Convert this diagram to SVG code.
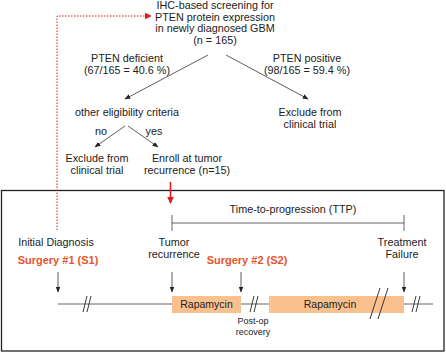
<svg xmlns="http://www.w3.org/2000/svg" width="446" height="353" viewBox="0 0 446 353">
<defs>
<style>
text{font-family:"Liberation Sans",Arial,sans-serif;font-size:10.8px;fill:#222;text-anchor:middle}
.sm{font-size:9px}
.rp{font-size:10.5px}
.sg{font-weight:bold;fill:#E8552B;font-size:11px}
.ln{stroke:#333;stroke-width:0.8;fill:none}
.tl{stroke:#555;stroke-width:0.9;fill:none}
.brk{stroke:#222;stroke-width:0.9;fill:none}
.bar{fill:#FAC18F}
</style>
<marker id="ah" viewBox="0 0 10 10" refX="9" refY="5" markerWidth="6" markerHeight="6" orient="auto" markerUnits="userSpaceOnUse"><path d="M0,1 L10,5 L0,9 z" fill="#222"/></marker>
<marker id="ahr" viewBox="0 0 10 10" refX="9" refY="5" markerWidth="7" markerHeight="7" orient="auto" markerUnits="userSpaceOnUse"><path d="M0,0 L10,5 L0,10 z" fill="#E31A1A"/></marker>
</defs>
<rect x="1.5" y="190.5" width="442.5" height="160.5" fill="none" stroke="#222" stroke-width="1.3"/>
<g id="screening"><text x="215" y="9">IHC-based screening for</text><text x="215" y="20.5">PTEN protein expression</text><text x="215" y="32">in newly diagnosed GBM</text><text x="215" y="43.5">(n = 165)</text></g>
<g id="deficient"><text x="127" y="61.5">PTEN deficient</text><text x="127" y="73.5">(67/165 = 40.6 %)</text></g>
<g id="positive"><text x="307" y="61.5">PTEN positive</text><text x="307" y="73.5">(98/165 = 59.4 %)</text></g>
<g id="eligibility"><text x="127" y="116">other eligibility criteria</text></g>
<g id="exclude-right"><text x="310" y="116">Exclude from</text><text x="310" y="127.5">clinical trial</text></g>
<g id="label-no"><text x="101" y="135">no</text></g>
<g id="label-yes"><text x="154" y="135">yes</text></g>
<g id="exclude-left"><text x="97" y="162">Exclude from</text><text x="97" y="174">clinical trial</text></g>
<g id="enroll"><text x="187" y="162">Enroll at tumor</text><text x="187" y="174">recurrence (n=15)</text></g>
<g id="ttp"><text x="293" y="213">Time-to-progression (TTP)</text></g>
<g id="initial"><text x="56" y="246">Initial Diagnosis</text><text class="sg" x="58" y="264">Surgery #1 (S1)</text></g>
<g id="recurrence"><text x="174" y="246">Tumor</text><text x="174" y="257.5">recurrence</text></g>
<g id="surgery2"><text class="sg" x="247" y="264">Surgery #2 (S2)</text></g>
<g id="failure"><text x="402" y="246">Treatment</text><text x="402" y="257.5">Failure</text></g>
<g id="rapa1"><rect class="bar" x="172" y="296" width="69" height="17"/><text class="rp" x="206.5" y="308">Rapamycin</text></g>
<g id="rapa2"><rect class="bar" x="269" y="296" width="135" height="17"/><text class="rp" x="330" y="308">Rapamycin</text></g>
<g id="postop"><text class="sm" x="253" y="324">Post-op</text><text class="sm" x="253" y="335">recovery</text></g>
<g id="connectors">
<path d="M57,230 V16 H151" stroke="#E31A1A" stroke-width="1" stroke-dasharray="1.5,1.5" fill="none" marker-end="url(#ahr)"/>
<line class="ln" x1="208" y1="55" x2="125" y2="99" marker-end="url(#ah)"/>
<line class="ln" x1="226" y1="55" x2="308" y2="99" marker-end="url(#ah)"/>
<line class="ln" x1="125" y1="126" x2="95" y2="147" marker-end="url(#ah)"/>
<line class="ln" x1="128" y1="126" x2="158" y2="147" marker-end="url(#ah)"/>
<line x1="170.5" y1="182" x2="170.5" y2="203" stroke="#E31A1A" stroke-width="1.6" marker-end="url(#ahr)"/>
<path class="tl" d="M172,215 V231 M404,215 V231 M172,223 H404"/>
<line class="ln" x1="58" y1="272" x2="58" y2="292" marker-end="url(#ah)"/>
<line class="ln" x1="172" y1="272" x2="172" y2="292" marker-end="url(#ah)"/>
<line class="ln" x1="241" y1="272" x2="241" y2="292" marker-end="url(#ah)"/>
<line class="ln" x1="404" y1="272" x2="404" y2="292" marker-end="url(#ah)"/>
<path class="tl" d="M58,304 H172 M241,304 H269 M404,304 H433"/>
<path class="brk" d="M83,312 L87,296 M87,312 L91,296 M250,312 L254,296 M254,312 L258,296 M412,312 L416,296 M416,312 L420,296"/>
<path class="brk" stroke-width="1.2" d="M370,319 L380,288 M378,319 L388,288"/>
</g>
</svg>
